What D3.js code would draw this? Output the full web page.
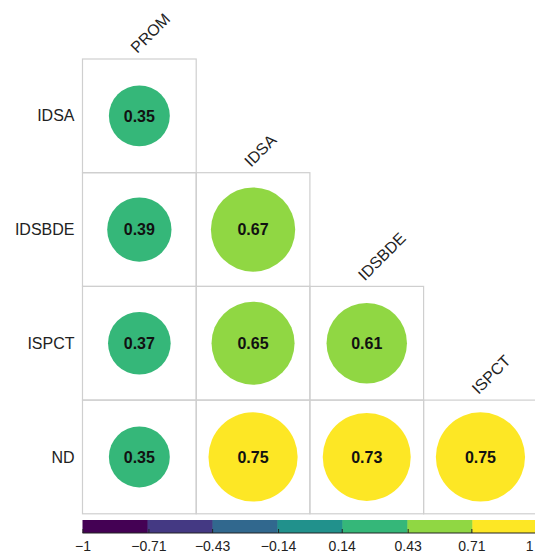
<!DOCTYPE html>
<html>
<head>
<meta charset="utf-8">
<script src="https://cdn.jsdelivr.net/npm/d3@7"></script>
<style>
  body { margin: 0; background: #fff; overflow: hidden; }
  svg { display: block; font-family: Arial, "Liberation Sans", sans-serif; }
</style>
</head>
<body>
<div id="corr"></div>
<script>
// data
const rowNames = ["IDSA", "IDSBDE", "ISPCT", "ND"];
const colNames = ["PROM", "IDSA", "IDSBDE", "ISPCT"];
// lower triangle values, row by row
const values = [
  [0.35],
  [0.39, 0.67],
  [0.37, 0.65, 0.61],
  [0.35, 0.75, 0.73, 0.75]
];
const legendTicks = [-1, -0.71, -0.43, -0.14, 0.14, 0.43, 0.71, 1];

const width = 535, height = 557;
const margin = {top: 59, left: 82.5};
const cell = 113.7;

const cells = [];
values.forEach((row, i) => row.forEach((v, j) => cells.push({row: rowNames[i], col: colNames[j], i, j, v})));

// scales
const xScale = d3.scaleBand().domain(colNames).range([0, cell * colNames.length]);
const yScale = d3.scaleBand().domain(rowNames).range([0, cell * rowNames.length]);
const rScale = d3.scaleSqrt().domain([0, 1]).range([0, 51.5]);

const binColors = d3.range(7).map(k => d3.interpolateViridis(k / 6));
const colorScale = d3.scaleQuantize().domain([-1, 1]).range(binColors);

const svg = d3.select("#corr").append("svg")
  .attr("width", width)
  .attr("height", height);

const g = svg.append("g")
  .attr("transform", `translate(${margin.left},${margin.top})`);

// cell boxes
g.selectAll("rect.cell").data(cells)
  .enter().append("rect")
  .attr("class", "cell")
  .attr("x", d => xScale(d.col))
  .attr("y", d => yScale(d.row))
  .attr("width", xScale.bandwidth())
  .attr("height", yScale.bandwidth())
  .attr("fill", "none")
  .attr("stroke", "#cfcfcf")
  .attr("stroke-width", 1.2);

// circles
g.selectAll("circle").data(cells)
  .enter().append("circle")
  .attr("cx", d => xScale(d.col) + xScale.bandwidth() / 2)
  .attr("cy", d => yScale(d.row) + yScale.bandwidth() / 2)
  .attr("r", d => rScale(Math.abs(d.v)))
  .attr("fill", d => colorScale(d.v));

// value labels
g.selectAll("text.val").data(cells)
  .enter().append("text")
  .attr("class", "val")
  .attr("x", d => xScale(d.col) + xScale.bandwidth() / 2)
  .attr("y", d => yScale(d.row) + yScale.bandwidth() / 2)
  .attr("dy", "0.36em")
  .attr("text-anchor", "middle")
  .attr("font-size", 16)
  .attr("font-weight", "bold")
  .attr("fill", "#111")
  .text(d => d.v.toFixed(2));

// row labels
g.selectAll("text.rowlab").data(rowNames)
  .enter().append("text")
  .attr("class", "rowlab")
  .attr("x", -8)
  .attr("y", d => yScale(d) + yScale.bandwidth() / 2)
  .attr("dy", "0.35em")
  .attr("text-anchor", "end")
  .attr("font-size", 16)
  .attr("fill", "#222")
  .text(d => d);

// column labels, above the top cell of each column
g.selectAll("text.collab").data(colNames)
  .enter().append("text")
  .attr("class", "collab")
  .attr("transform", (d, j) => `translate(${xScale(d) + xScale.bandwidth() / 2 - 2},${yScale(rowNames[j]) - 5}) rotate(-45)`)
  .attr("text-anchor", "start")
  .attr("font-size", 16)
  .attr("fill", "#222")
  .text(d => d);

// colour bar, same width as the grid
const legendX = d3.scaleLinear().domain([-1, 1]).range([margin.left, margin.left + cell * colNames.length]);
const legendY = 520, legendH = 13;
const bins = d3.range(7).map(k => [-1 + k * 2 / 7, -1 + (k + 1) * 2 / 7]);

const legend = svg.append("g");
legend.selectAll("rect").data(bins)
  .enter().append("rect")
  .attr("x", d => legendX(d[0]))
  .attr("y", legendY)
  .attr("width", d => legendX(d[1]) - legendX(d[0]) + 0.5)
  .attr("height", legendH)
  .attr("fill", (d, k) => binColors[k]);

legend.append("line")
  .attr("x1", legendX(-1)).attr("x2", legendX(1))
  .attr("y1", legendY + legendH).attr("y2", legendY + legendH)
  .attr("stroke", "#222").attr("stroke-width", 1);

const axis = d3.axisBottom(legendX)
  .tickValues(legendTicks)
  .tickSize(4)
  .tickSizeOuter(0)
  .tickFormat(d => d3.format("")(d).replace("-", "\u2212"));

legend.append("g")
  .attr("transform", `translate(0,${legendY + legendH - 4})`)
  .call(axis)
  .call(a => a.select(".domain").remove())
  .call(a => a.selectAll("line").attr("stroke", "#222"))
  .call(a => a.selectAll("text").attr("font-size", 14).attr("fill", "#222").attr("dy", "1.1em")
    .attr("font-family", "Arial, 'Liberation Sans', sans-serif"))
  // the last label sits past the page edge; pull it back inside
  .call(a => a.selectAll("text").filter(d => d === 1).attr("text-anchor", "end").attr("dx", 533 - legendX(1)));
</script>
</body>
</html>
